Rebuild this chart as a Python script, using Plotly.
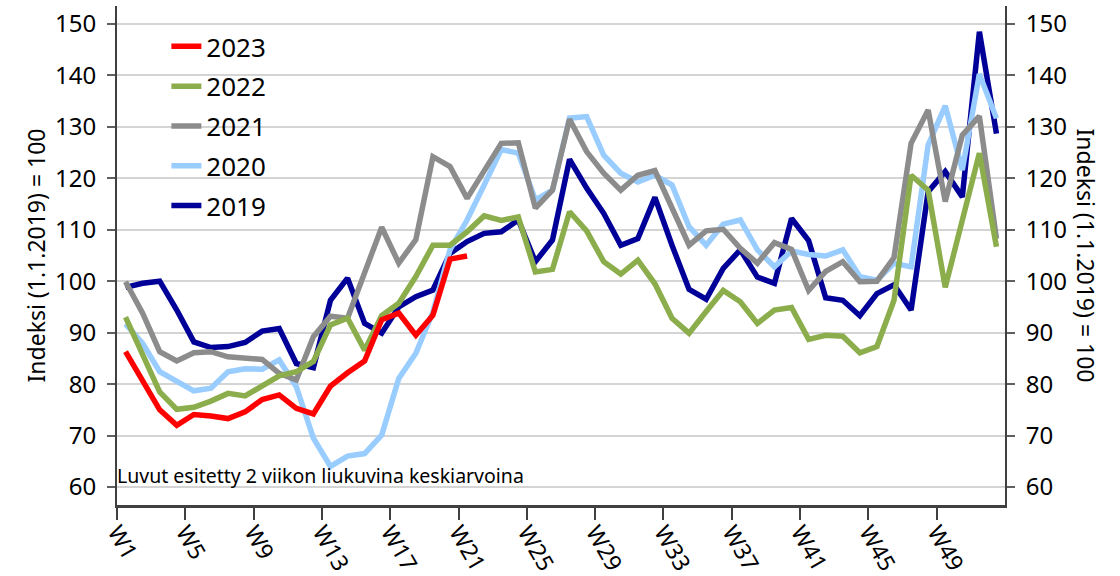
import plotly.graph_objects as go

weeks = list(range(1, 53))
tick_labels = ["W1", "W5", "W9", "W13", "W17", "W21", "W25", "W29", "W33", "W37", "W41", "W45", "W49"]

y2019 = [98.8, 99.6, 100.0, 94.4, 88.2, 87.1, 87.3, 88.1, 90.3, 90.8, 84.0, 83.2, 96.3, 100.6, 91.8, 89.9,
         95.0, 97.0, 98.3, 105.4, 107.7, 109.3, 109.6, 111.9, 103.8, 108.0, 123.7, 118.1, 113.2, 107.0, 108.3, 116.3,
         107.0, 98.4, 96.5, 102.5, 106.1, 100.8, 99.6, 112.2, 107.9, 96.8, 96.3, 93.3, 97.6, 99.3, 94.4, 117.4,
         121.3, 116.4, 148.5, 128.7]
y2020 = [91.7, 87.9, 82.4, 80.6, 78.7, 79.2, 82.4, 83.0, 82.9, 84.7, 79.5, 69.5, 64.0, 66.0, 66.5, 70.1,
         81.1, 86.0, 94.0, 106.1, 111.9, 118.7, 125.6, 124.9, 115.8, 117.7, 131.7, 132.0, 124.5, 121.0, 119.3, 120.6,
         118.7, 110.6, 107.0, 111.1, 111.9, 106.1, 102.8, 105.9, 105.2, 104.9, 106.1, 100.9, 100.2, 103.5, 102.8, 126.5,
         134.1, 121.6, 140.3, 131.7]
y2021 = [99.9, 93.8, 86.3, 84.5, 86.1, 86.3, 85.3, 85.0, 84.8, 82.1, 80.8, 89.2, 93.2, 92.8, 101.5, 110.5,
         103.5, 108.1, 124.2, 122.3, 116.1, 121.6, 126.8, 126.9, 114.2, 117.7, 131.5, 125.2, 121.0, 117.7, 120.6, 121.5,
         114.5, 107.0, 109.8, 110.1, 106.4, 103.5, 107.5, 106.2, 98.2, 101.9, 103.8, 99.9, 100.0, 104.6, 126.8, 133.3,
         115.5, 128.4, 132.1, 108.3]
y2022 = [93.0, 85.7, 78.5, 75.1, 75.5, 76.7, 78.2, 77.7, 79.6, 81.6, 82.4, 84.4, 91.5, 92.8, 86.6, 93.3,
         95.7, 100.9, 107.0, 107.0, 109.6, 112.7, 111.8, 112.5, 101.8, 102.3, 113.5, 109.8, 103.8, 101.4, 104.1, 99.5,
         92.8, 89.9, 94.1, 98.2, 96.0, 91.8, 94.4, 94.9, 88.7, 89.5, 89.3, 86.1, 87.3, 96.3, 120.6, 117.7,
         98.8, 111.9, 124.9, 106.7]
y2023 = [86.3, 80.8, 75.0, 72.0, 74.1, 73.8, 73.3, 74.6, 77.0, 77.9, 75.3, 74.2, 79.6, 82.2, 84.5, 92.5,
         93.8, 89.5, 93.4, 104.3, 104.9]

series = [
    ("2019", y2019, "#000099"),
    ("2020", y2020, "#99CCFF"),
    ("2021", y2021, "#8C8C8C"),
    ("2022", y2022, "#8BAD4B"),
    ("2023", y2023, "#FF0000"),
]

FONT = "Noto Sans"
fig = go.Figure()
for i, (name, vals, col) in enumerate(series):
    fig.add_trace(go.Scatter(
        x=weeks[:len(vals)], y=vals, name=name, mode="lines",
        line=dict(color=col, width=5.5), legendgroup=name,
        legendrank=1000 - i,
    ))
# invisible trace to activate right axis
fig.add_trace(go.Scatter(x=weeks, y=y2019, yaxis="y2", mode="lines",
                         line=dict(width=0, color="rgba(0,0,0,0)"),
                         showlegend=False, hoverinfo="skip"))

tickvals = [0.5 + 4 * i for i in range(len(tick_labels))]

yax = dict(range=[56.5, 153.5], tickvals=list(range(60, 151, 10)), showgrid=True,
           gridcolor="#D4D4D4", gridwidth=1.5, showline=True, linecolor="#404040", linewidth=2,
           ticks="outside", ticklen=8, tickwidth=1.5, tickcolor="#606060",
           tickfont=dict(family=FONT, size=24, color="#000000"), zeroline=False,
           ticklabelstandoff=6, automargin=False)

fig.update_layout(
    width=1120, height=576,
    margin=dict(l=117, r=115, t=6, b=71, autoexpand=False),
    paper_bgcolor="white", plot_bgcolor="white",
    xaxis=dict(range=[0.5, 52.5], tickvals=tickvals, ticktext=tick_labels, tickangle=60,
               showgrid=False, showline=True, linecolor="#404040", linewidth=2.5,
               ticks="outside", ticklen=12, tickwidth=1.5, tickcolor="#404040",
               tickfont=dict(family=FONT, size=23, color="#000000"), zeroline=False,
               automargin=False, ticklabelstandoff=-10),
    yaxis=yax,
    yaxis2=dict(yax, overlaying="y", side="right", showgrid=False),
    legend=dict(x=0.0556, y=0.966, xanchor="left", yanchor="top", traceorder="grouped",
                font=dict(family=FONT, size=26, color="#000000"), bgcolor="rgba(0,0,0,0)",
                tracegroupgap=3, itemwidth=30),
    showlegend=True,
)

fig.add_annotation(text="Indeksi (1.1.2019) = 100", xref="paper", yref="paper",
                   x=(35 - 117) / 888, y=0.5, xanchor="center", yanchor="middle",
                   textangle=-90, showarrow=False, font=dict(family=FONT, size=23, color="#000000"))
fig.add_annotation(text="Indeksi (1.1.2019) = 100", xref="paper", yref="paper",
                   x=(1086 - 117) / 888, y=0.5, xanchor="center", yanchor="middle",
                   textangle=90, showarrow=False, font=dict(family=FONT, size=23, color="#000000"))
fig.add_annotation(text="Luvut esitetty 2 viikon liukuvina keskiarvoina", xref="paper", yref="y",
                   x=0, y=62.3, xanchor="left", yanchor="middle", xshift=-2,
                   showarrow=False, font=dict(family=FONT, size=19.5, color="#000000"))

fig.write_html("out.html", config={"displayModeBar": False},
               post_script="document.body.style.margin='0';document.body.style.padding='0';")
